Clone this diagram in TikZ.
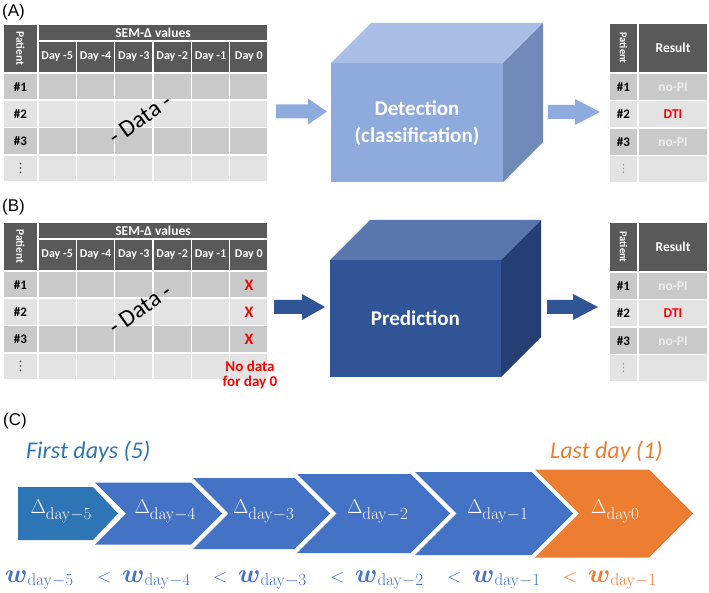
\RequirePackage{fix-cm}
\documentclass[tikz,border=0pt]{standalone}
\usepackage{amsmath}
\usepackage[no-math]{fontspec}
\setmainfont{Carlito}
\newfontfamily\arialf{Liberation Sans}
\newfontfamily\djv{DejaVu Sans}
\newcommand\fsz[1]{\fontsize{#1}{#1}\selectfont}
\definecolor{hdr}{HTML}{595959}
\definecolor{rowd}{HTML}{C9C9C9}
\definecolor{rowl}{HTML}{E3E3E3}
\definecolor{lblue}{HTML}{8FAADC}
\definecolor{ltop}{HTML}{A9BEE5}
\definecolor{lside}{HTML}{7189B8}
\definecolor{dblue}{HTML}{2F5597}
\definecolor{dtop}{HTML}{5A77AD}
\definecolor{dside}{HTML}{253F74}
\definecolor{cblue}{HTML}{4472C4}
\definecolor{tblue}{HTML}{2E75B6}
\definecolor{orng}{HTML}{ED7D31}
\definecolor{xred}{HTML}{FF0000}
\definecolor{nopi}{HTML}{EDEDED}
\newcommand\dlab[1]{{\fsz{20}$\Delta$}\raisebox{-6.5pt}{\fsz{17}$\mathrm{day}#1$}}
\newcommand\wlab[1]{{\fsz{26}$\boldsymbol{w}$}\raisebox{-3pt}{\fsz{17}$\mathrm{day}#1$}}
\begin{document}
\begin{tikzpicture}[x=1pt,y=-1pt,
  cell/.style={draw=white,line width=1.6pt},
  hd/.style={text=white,font=\bfseries\fsz{12},inner sep=0},
  rl/.style={text=black,font=\bfseries\fsz{13},inner sep=0},
  plab/.style={anchor=base west,font=\arialf\fsz{17},inner sep=0},
  datal/.style={rotate=35,font=\fsz{24},inner sep=0},
  xmk/.style={text=xred,font=\bfseries\fsz{16},inner sep=0},
  boxtxt/.style={text=white,font=\bfseries\fontsize{21}{27}\selectfont,align=center,inner sep=0},
  chv/.style={anchor=base,text=white,inner sep=0},
  wl/.style={anchor=base west,inner sep=0},
  vd/.style={inner sep=0,font=\djv\fsz{13}},
  itl/.style={anchor=base west,font=\itshape\fsz{24},inner sep=0}]
\useasboundingbox[fill=white] (0,0) rectangle (709,593);

% panel labels
\node[plab] (labA) at (2,17) {(A)};
\node[plab] (labB) at (2,212) {(B)};
\node[plab] (labC) at (3,425) {(C)};

% input tables
\foreach \p/\t in {A/24,B/222}{
\begin{scope}[shift={(0,\t)}]
  \fill[hdr,cell] (3,0) rectangle (38,49);
  \node[hd,rotate=-90,font=\bfseries\fsz{11.5}] (\p-pat) at (20.5,24.5) {Patient};
  \fill[hdr,cell] (38,0) rectangle (268,17);
  \node[hd,font=\bfseries\fsz{13.5}] (\p-sem) at (153,8.5) {SEM-Δ values};
  \foreach \i/\dd in {0/-5,1/-4,2/-3,3/-2,4/-1,5/0}{
    \pgfmathsetmacro\xa{38+\i*38.333}
    \pgfmathsetmacro\xb{\xa+38.333}
    \pgfmathsetmacro\xc{\xa+19.17}
    \fill[hdr,cell] (\xa,17) rectangle (\xb,49);
    \node[hd] (\p-d\i) at (\xc,33) {Day \dd};
    \foreach \r/\cc in {0/rowd,1/rowl,2/rowd,3/rowl}{
      \pgfmathsetmacro\ya{49+\r*27.3}
      \pgfmathsetmacro\yb{\ya+27.3}
      \fill[\cc,cell] (\xa,\ya) rectangle (\xb,\yb);
    }
  }
  \foreach \r/\cc/\lab in {0/rowd/\#1,1/rowl/\#2,2/rowd/\#3}{
    \pgfmathsetmacro\ya{49+\r*27.3}
    \pgfmathsetmacro\yb{\ya+27.3}
    \pgfmathsetmacro\yc{\ya+13.65}
    \fill[\cc,cell] (3,\ya) rectangle (38,\yb);
    \node[rl] (\p-row\r) at (20.5,\yc) {\lab};
  }
  \fill[rowl,cell] (3,130.9) rectangle (38,158.2);
  \node[vd,text=black!75] (\p-dots) at (20.5,144.5) {⋮};
\end{scope}
}
\node[datal] (A-data) at (140,119) {- Data -};
\node[datal] (B-data) at (140,309) {- Data -};
\node[xmk] (B-x1) at (249,285) {X};
\node[xmk] (B-x2) at (249,312) {X};
\node[xmk] (B-x3) at (249,339.5) {X};
\node[text=xred,font=\bfseries\fsz{15},inner sep=0] (B-nd1) at (250,366) {No data};
\node[text=xred,font=\bfseries\fsz{15},inner sep=0] (B-nd2) at (250,382) {for day 0};

% result tables
\foreach \p/\t in {A/23,B/222}{
\begin{scope}[shift={(0,\t)}]
  \fill[hdr,cell] (609,0) rectangle (638,50);
  \fill[hdr,cell] (638,0) rectangle (708,50);
  \node[hd,rotate=-90,font=\bfseries\fsz{10.5}] (\p-rpat) at (623.5,25) {Patient};
  \node[hd,font=\bfseries\fsz{13.5}] (\p-res) at (673,25) {Result};
  \foreach \r/\cc/\lab/\res/\rc in {0/rowd/\#1/no-PI/nopi,1/rowl/\#2/DTI/xred,2/rowd/\#3/no-PI/nopi}{
    \pgfmathsetmacro\ya{50+\r*27.5}
    \pgfmathsetmacro\yb{\ya+27.5}
    \pgfmathsetmacro\yc{\ya+13.75}
    \fill[\cc,cell] (609,\ya) rectangle (638,\yb);
    \fill[\cc,cell] (638,\ya) rectangle (708,\yb);
    \node[rl] (\p-rr\r) at (623.5,\yc) {\lab};
    \node[inner sep=0,text=\rc,font=\bfseries\fsz{13.5}] (\p-rv\r) at (673,\yc) {\res};
  }
  \fill[rowl,cell] (609,132.5) rectangle (638,160);
  \fill[rowl,cell] (638,132.5) rectangle (708,160);
  \node[vd,text=black!45,font=\djv\fsz{11}] (\p-rdots) at (623.5,146) {⋮};
\end{scope}
}

% cubes
\fill[lblue] (331,63) rectangle (503,182);
\fill[ltop] (331,63) -- (371,23) -- (543,23) -- (503,63) -- cycle;
\fill[lside] (503,63) -- (543,23) -- (543,142) -- (503,182) -- cycle;
\node[boxtxt] (A-box) at (417,123) {Detection\\(classification)};
\fill[dblue] (330,260) rectangle (501,377);
\fill[dtop] (330,260) -- (370,220) -- (541,220) -- (501,260) -- cycle;
\fill[dside] (501,260) -- (541,220) -- (541,337) -- (501,377) -- cycle;
\node[boxtxt] (B-box) at (415.5,318) {Prediction};

% block arrows
\foreach \nm/\col/\xs/\xh/\xt/\yy in {a1/lblue/276/308/327/111.5,a2/lblue/548/575/600/112,b1/dblue/274/302/325/307,b2/dblue/547/573/598/307}{
  \coordinate (\nm-s) at (\xs,\yy);
  \coordinate (\nm-t) at (\xt,\yy);
  \fill[\col] (\xs,\yy-7) -- (\xh,\yy-7) -- (\xh,\yy-13) -- (\nm-t) -- (\xh,\yy+13) -- (\xh,\yy+7) -- (\xs,\yy+7) -- cycle;
}

% chevrons
\fill[tblue] (18,487) -- (93,487) -- (118,513.5) -- (93,540) -- (18,540) -- cycle;
\foreach \L/\h/\T/\col in {95/31/222/cblue,193/35.5/330/cblue,297/39.5/450/cblue,415/41.5/573/cblue,535/44/693/orng}{
  \fill[\col] (\L,513.5-\h) -- (\T-\h,513.5-\h) -- (\T,513.5) -- (\T-\h,513.5+\h) -- (\L,513.5+\h) -- (\L+\h,513.5) -- cycle;
}
\node[chv] (c1) at (61,513) {\dlab{{-}5}};
\node[chv] (c2) at (165,513) {\dlab{{-}4}};
\node[chv] (c3) at (263.5,513) {\dlab{{-}3}};
\node[chv] (c4) at (377.5,513) {\dlab{{-}2}};
\node[chv] (c5) at (497.5,513) {\dlab{{-}1}};
\node[chv] (c6) at (615,513) {\dlab{0}};

\node[itl,text=tblue] (first) at (26,458) {First days (5)};
\node[itl,text=orng] (last) at (550,458) {Last day (1)};

% weights
\node[wl,text=cblue] (w1) at (5,582) {\wlab{{-}5}};
\foreach \n/\lx/\wx/\d/\col in {2/97/122/4/cblue,3/213/238/3/cblue,4/330/355/2/cblue,5/447/472/1/cblue,6/563/588/1/orng}{
  \node[wl,text=\col,font=\fsz{19}] (lt\n) at (\lx,582) {$<$};
  \node[wl,text=\col] (w\n) at (\wx,582) {\wlab{{-}\d}};
}
\end{tikzpicture}
\end{document}
